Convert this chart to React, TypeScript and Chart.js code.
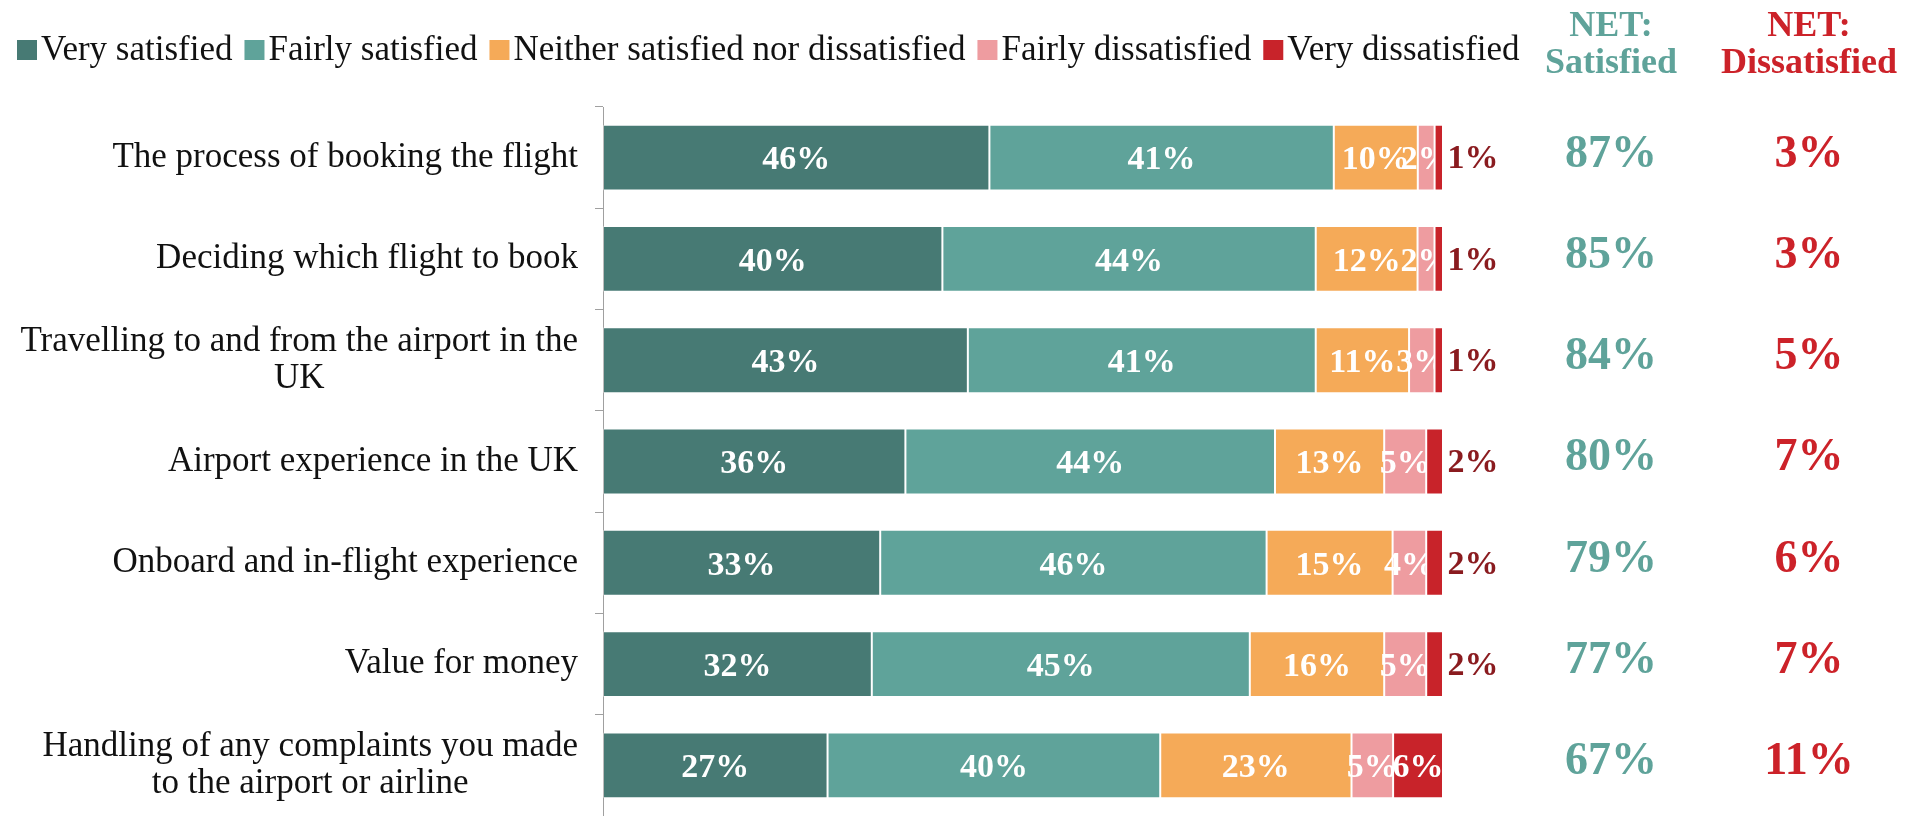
import React, { useEffect, useRef } from "react";
import { Chart, registerables } from "chart.js";

Chart.register(...registerables);

const SERIF = '"Liberation Serif", "Times New Roman", serif';

const categories: string[][] = [
  ["The process of booking the flight"],
  ["Deciding which flight to book"],
  ["Travelling to and from the airport in the", "UK"],
  ["Airport experience in the UK"],
  ["Onboard and in-flight experience"],
  ["Value for money"],
  ["Handling of any complaints you made", "to the airport or airline"],
];

const seriesNames = [
  "Very satisfied",
  "Fairly satisfied",
  "Neither satisfied nor dissatisfied",
  "Fairly dissatisfied",
  "Very dissatisfied",
];
const seriesColors = ["#477A74", "#5FA39A", "#F5AA58", "#EE9CA0", "#C8232A"];

const verySatisfied = [46, 40, 43, 36, 33, 32, 27];
const fairlySatisfied = [41, 44, 41, 44, 46, 45, 40];
const neitherNor = [10, 12, 11, 13, 15, 16, 23];
const fairlyDissatisfied = [2, 2, 3, 5, 4, 5, 5];
const veryDissatisfied = [1, 1, 1, 2, 2, 2, 6];

const netSatisfied = [87, 85, 84, 80, 79, 77, 67];
const netDissatisfied = [3, 3, 5, 7, 6, 7, 11];
const netHeaderSatisfied = ["NET:", "Satisfied"];
const netHeaderDissatisfied = ["NET:", "Dissatisfied"];

const seriesValues = [verySatisfied, fairlySatisfied, neitherNor, fairlyDissatisfied, veryDissatisfied];

const rowTotals = categories.map((_, i) => seriesValues.reduce((s, arr) => s + arr[i], 0));

const overlayPlugin = {
  id: "overlay",
  afterDatasetsDraw(chart: any) {
    const ctx = chart.ctx as CanvasRenderingContext2D;
    const area = chart.chartArea;
    ctx.save();
    ctx.textBaseline = "middle";
    ctx.textAlign = "center";
    ctx.font = `bold 34px ${SERIF}`;
    chart.data.datasets.forEach((_ds: any, di: number) => {
      const meta = chart.getDatasetMeta(di);
      meta.data.forEach((bar: any, i: number) => {
        const raw = seriesValues[di][i];
        const { x, y, base } = bar.getProps(["x", "y", "base"], true);
        const left = Math.min(x, base);
        const right = Math.max(x, base);
        const label = raw + "%";
        if (di === 4 && raw < 5) {
          ctx.fillStyle = "#8A1B1F";
          ctx.fillText(label, area.right + 30, y + 2);
        } else {
          ctx.save();
          ctx.beginPath();
          ctx.rect(area.left, y - 45, right - area.left, 90);
          ctx.clip();
          ctx.fillStyle = "#FFFFFF";
          ctx.fillText(label, (left + right) / 2, y + 3);
          ctx.restore();
        }
      });
    });
    ctx.restore();
  },
  afterDraw(chart: any) {
    const ctx = chart.ctx as CanvasRenderingContext2D;
    const area = chart.chartArea;
    const yScale = chart.scales.y;
    ctx.save();

    // Category labels
    ctx.font = `35px ${SERIF}`;
    ctx.fillStyle = "#111111";
    ctx.textBaseline = "middle";
    ctx.textAlign = "center";
    const lineH = 37;
    categories.forEach((lines, i) => {
      const yc = yScale.getPixelForValue(i);
      const widest = Math.max(...lines.map((l) => ctx.measureText(l).width));
      const rightEdge = area.left - 25;
      const cx = rightEdge - widest / 2;
      lines.forEach((line, j) => {
        const ly = yc + (j - (lines.length - 1) / 2) * lineH;
        ctx.fillText(line, cx, ly);
      });
    });

    // Legend
    ctx.textAlign = "left";
    ctx.font = `35px ${SERIF}`;
    let lx = 17;
    const ly = 50;
    chart.data.datasets.forEach((ds: any) => {
      ctx.fillStyle = ds.backgroundColor;
      ctx.fillRect(lx, ly - 10, 20, 20);
      lx += 24;
      ctx.fillStyle = "#111111";
      ctx.fillText(ds.label, lx, ly + 1);
      lx += ctx.measureText(ds.label).width + 12;
    });

    // NET columns
    ctx.textAlign = "center";
    const colS = 1611;
    const colD = 1809;
    ctx.font = `bold 36px ${SERIF}`;
    ctx.fillStyle = "#5FA39A";
    ctx.fillText(netHeaderSatisfied[0], colS, 27);
    ctx.fillText(netHeaderSatisfied[1], colS, 64);
    ctx.fillStyle = "#CC2229";
    ctx.fillText(netHeaderDissatisfied[0], colD, 27);
    ctx.fillText(netHeaderDissatisfied[1], colD, 64);

    ctx.font = `bold 46px ${SERIF}`;
    categories.forEach((_, i) => {
      const yc = yScale.getPixelForValue(i) - 3;
      ctx.fillStyle = "#5FA39A";
      ctx.fillText(netSatisfied[i] + "%", colS, yc);
      ctx.fillStyle = "#CC2229";
      ctx.fillText(netDissatisfied[i] + "%", colD, yc);
    });

    ctx.restore();
  },
};

export default function App() {
  const canvasRef = useRef<HTMLCanvasElement | null>(null);

  useEffect(() => {
    document.body.style.margin = "0";
    document.body.style.overflow = "hidden";
    const canvas = canvasRef.current;
    if (!canvas) return;
    const chart = new Chart(canvas, {
      type: "bar",
      data: {
        labels: categories.map((c) => c.join(" ")),
        datasets: seriesNames.map((name, di) => ({
          label: name,
          data: seriesValues[di].map((v, i) => (v / rowTotals[i]) * 100),
          backgroundColor: seriesColors[di],
          borderColor: "rgba(255,255,255,0.3)",
          borderWidth: 1,
          borderSkipped: false,
          categoryPercentage: 0.65,
          barPercentage: 1,
        })),
      },
      options: {
        indexAxis: "y",
        responsive: false,
        animation: false,
        devicePixelRatio: 1,
        layout: { padding: { top: 107, right: 486, bottom: 0, left: 0 } },
        plugins: {
          legend: { display: false },
          tooltip: { enabled: false },
          title: { display: false },
        },
        scales: {
          x: {
            stacked: true,
            min: 0,
            max: 100,
            display: false,
          },
          y: {
            stacked: true,
            offset: true,
            ticks: { display: false },
            grid: {
              offset: true,
              drawOnChartArea: false,
              drawTicks: true,
              tickLength: 8,
              color: "#A0A0A0",
              lineWidth: 1,
            },
            border: { display: true, color: "#A0A0A0", width: 1 },
            afterFit: (scale: any) => {
              scale.width = 603;
            },
          },
        },
      } as any,
      plugins: [overlayPlugin],
    });
    return () => chart.destroy();
  }, []);

  return (
    <div style={{ position: "absolute", left: 0, top: 0, width: 1929, height: 816 }}>
      <canvas ref={canvasRef} width={1929} height={816} style={{ width: 1929, height: 816, display: "block" }} />
    </div>
  );
}
